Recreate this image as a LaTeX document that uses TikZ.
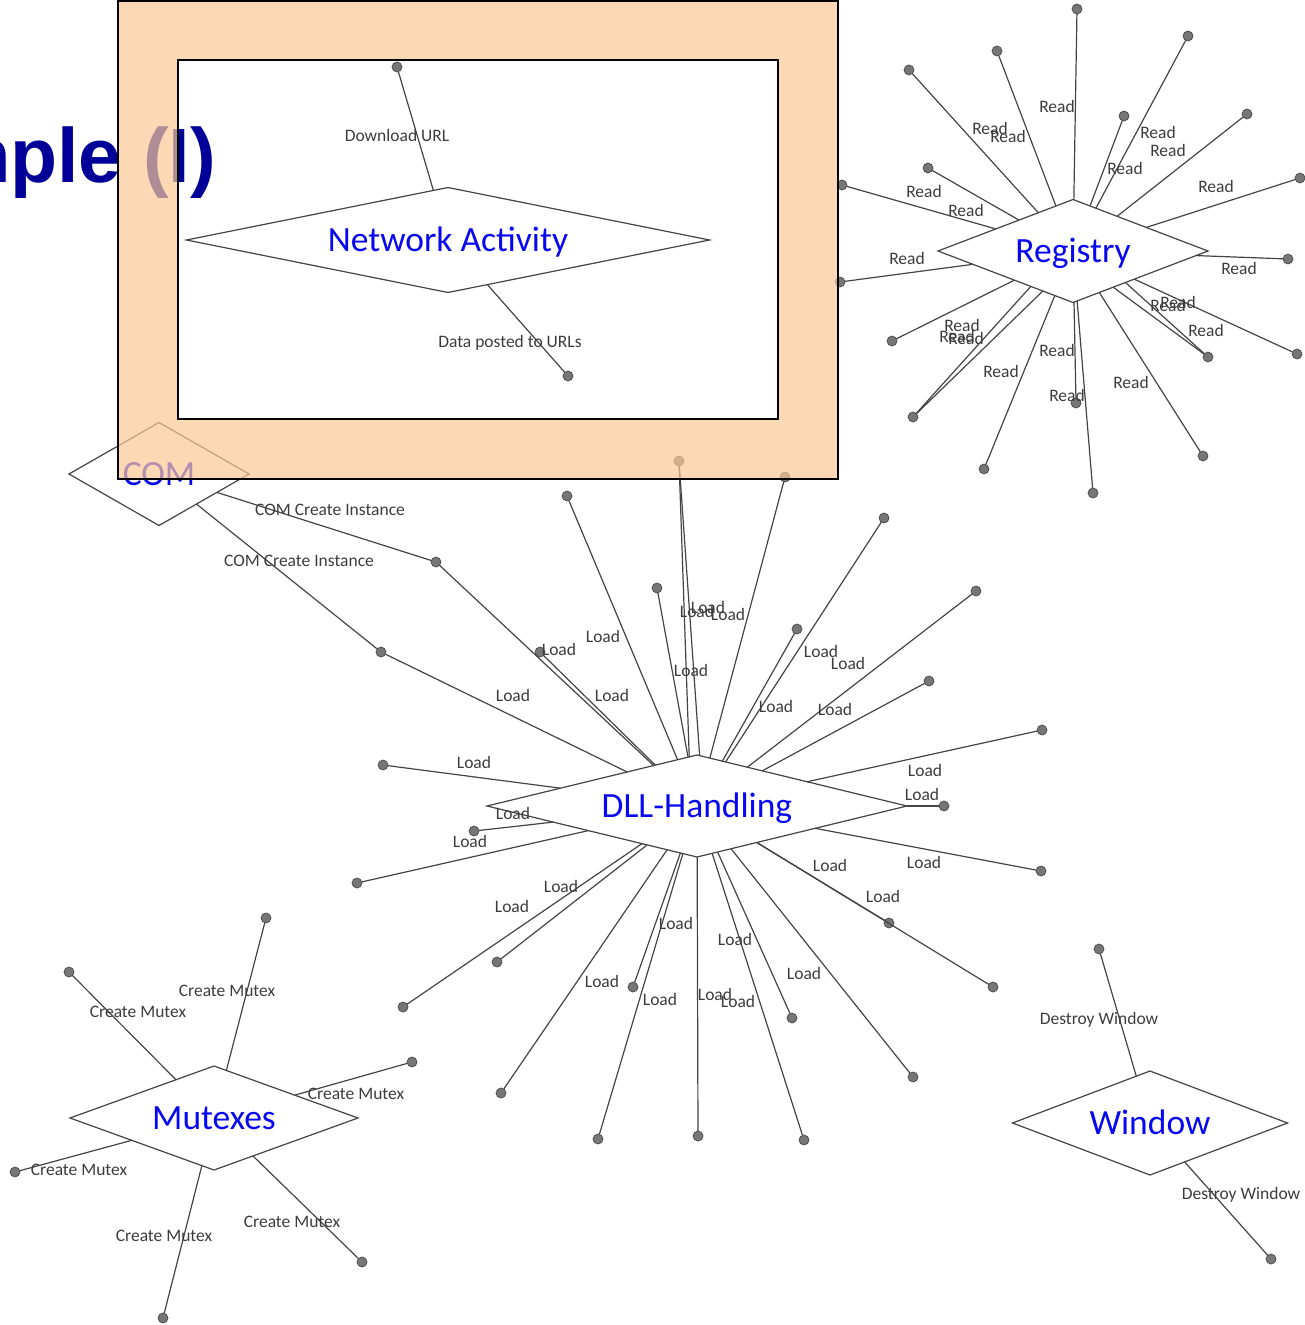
\documentclass[tikz,border=0pt]{standalone}
\usepackage{fontspec}
\setmainfont{Carlito}
\newfontfamily\titlefam{Liberation Sans}
\usetikzlibrary{shapes.geometric}

\definecolor{linec}{RGB}{68,68,68}
\definecolor{lblc}{RGB}{60,60,60}
\definecolor{hubc}{RGB}{8,8,240}
\definecolor{dotfill}{RGB}{118,118,118}
\definecolor{dotline}{RGB}{72,72,72}
\definecolor{framefill}{RGB}{252,200,149}
\definecolor{titlec}{RGB}{0,0,153}

\tikzset{
  hub/.style={shape=diamond, draw=linec, line width=1.2pt, fill=white,
    inner sep=0pt, outer sep=0pt, text=hubc,
    font=\fontsize{35.5}{40}\selectfont, text height=23pt, text depth=0pt},
  lbl/.style={text=lblc, font=\fontsize{17.5}{20}\selectfont,
    inner sep=0pt, text height=11.3pt, text depth=0pt},
  dot/.style={circle, fill=dotfill, draw=dotline, line width=0.7pt,
    minimum size=10pt, inner sep=0pt, outer sep=0pt},
  conn/.style={draw=linec, line width=1.2pt},
}

\begin{document}
\begin{tikzpicture}[x=1pt,y=-1pt]
\useasboundingbox (0,0) rectangle (1305,1325);

% slide title behind the frame
\node[anchor=base east, inner sep=0pt, text=titlec,
  font=\titlefam\bfseries\fontsize{77}{80}\selectfont] (title) at (216,182) {mple (I)};

% ---------- COM ----------
\node[hub, minimum width=180pt, minimum height=103pt, aspect=1.75] (com) at (159,474) {COM};

% ---------- DLL-Handling ----------
\node[hub, minimum width=420pt, minimum height=102pt, aspect=4.1] (dll) at (697,806) {DLL-Handling};

\foreach \nm/\px/\py/\lx/\ly in {
  da/567/496/603/637, db/657/588/691/671, dd/785/477/728/615,
  de/884/518/848/664, df/797/629/821/652, dg/976/591/776/707,
  dh/929/681/835/710, di/540/652/612/696, dj/436/562/559/650,
  dk/381/652/513/696, dl/383/765/474/763, dm/474/831/513/814,
  dn/357/883/470/842, do/1042/730/925/771, dp/944/806/922/795,
  dq/1041/871/924/863, dr/889/923/830/866, ds/993/987/883/897,
  dt/403/1007/512/907, du/497/962/561/887, dv/501/1093/602/982,
  dw/633/987/676/924, dx/598/1139/660/1000, dy/698/1136/715/995,
  dz/804/1140/738/1002, dA/792/1018/735/940, dB/913/1077/804/974}
{
  \node[dot] (\nm) at (\px,\py) {};
  \draw[conn] (\nm) -- (dll) node[lbl] at (\lx,\ly) {Load};
}
\node[dot] (dc) at (679,461) {};
\draw[conn] (dc) -- (dll.99.6) node[lbl] at (697,612) {Load};
\draw[conn] (dc) -- (dll.87.3) node[lbl] at (708,608) {Load};

% COM calls
\draw[conn] (com) -- (dj) node[lbl] at (330,510) {COM Create Instance};
\draw[conn] (com) -- (dk) node[lbl] at (299,561) {COM Create Instance};

% ---------- Registry ----------
\node[hub, minimum width=270pt, minimum height=103pt, aspect=2.6] (reg) at (1073,251) {Registry};

\foreach \nm/\px/\py/\lx/\ly in {
  ra/1077/9/1057/107, rb/1188/36/1158/133, rc/1124/116/1125/169,
  rd/1247/114/1168/151, re/1300/178/1216/187, rf/997/51/1008/137,
  rg/909/70/990/129, rh/928/168/966/211, ri/842/185/924/192,
  rj/840/282/907/259, rk/1288/259/1239/269, rl/892/341/962/326,
  rn/984/469/1001/372, ro/1076/403/1067/396, rp/1093/493/1057/351,
  rq/1203/456/1131/383, rs/1297/354/1206/331}
{
  \node[dot] (\nm) at (\px,\py) {};
  \draw[conn] (\nm) -- (reg) node[lbl] at (\lx,\ly) {Read};
}
\node[dot] (rm) at (913,417) {};
\draw[conn] (rm) -- (reg.-140.1) node[lbl] at (957,337) {Read};
\draw[conn] (rm) -- (reg.-127.1) node[lbl] at (966,339) {Read};
\node[dot] (rr) at (1208,357) {};
\draw[conn] (rr) -- (reg.-42.8) node[lbl] at (1168,306) {Read};
\draw[conn] (rr) -- (reg.-31.6) node[lbl] at (1178,303) {Read};

% ---------- Mutexes ----------
\node[hub, minimum width=288pt, minimum height=104pt, aspect=2.75] (mtx) at (214,1118) {Mutexes};

\foreach \nm/\px/\py/\lx/\ly in {
  ma/266/918/227/991, mb/69/972/138/1012, mc/412/1062/356/1094,
  md/15/1172/79/1170, me/163/1318/164/1236, mf/362/1262/292/1222}
{
  \node[dot] (\nm) at (\px,\py) {};
  \draw[conn] (\nm) -- (mtx) node[lbl] at (\lx,\ly) {Create Mutex};
}

% ---------- Window ----------
\node[hub, minimum width=275pt, minimum height=104pt, aspect=2.65] (win) at (1150,1123) {Window};

\node[dot] (wa) at (1099,949) {};
\draw[conn] (wa) -- (win) node[lbl] at (1099,1019) {Destroy Window};
\node[dot] (wb) at (1271,1259) {};
\draw[conn] (wb) -- (win) node[lbl] at (1241,1194) {Destroy Window};

% ---------- highlight frame ----------
\fill[framefill, fill opacity=0.7, even odd rule]
  (118,1) rectangle (838,479) (178,60) rectangle (778,419);
\draw[black, line width=2.2pt] (118,1) rectangle (838,479);
\draw[black, line width=2.2pt] (178,60) rectangle (778,419);

% ---------- Network Activity ----------
\node[hub, minimum width=523pt, minimum height=105pt, aspect=5] (net) at (448,240) {Network Activity};

\node[dot] (na) at (397,67) {};
\draw[conn] (na) -- (net) node[lbl] at (397,136) {Download URL};
\node[dot] (nb) at (568,376) {};
\draw[conn] (nb) -- (net) node[lbl] at (510,342) {Data posted to URLs};
\end{tikzpicture}
\end{document}
